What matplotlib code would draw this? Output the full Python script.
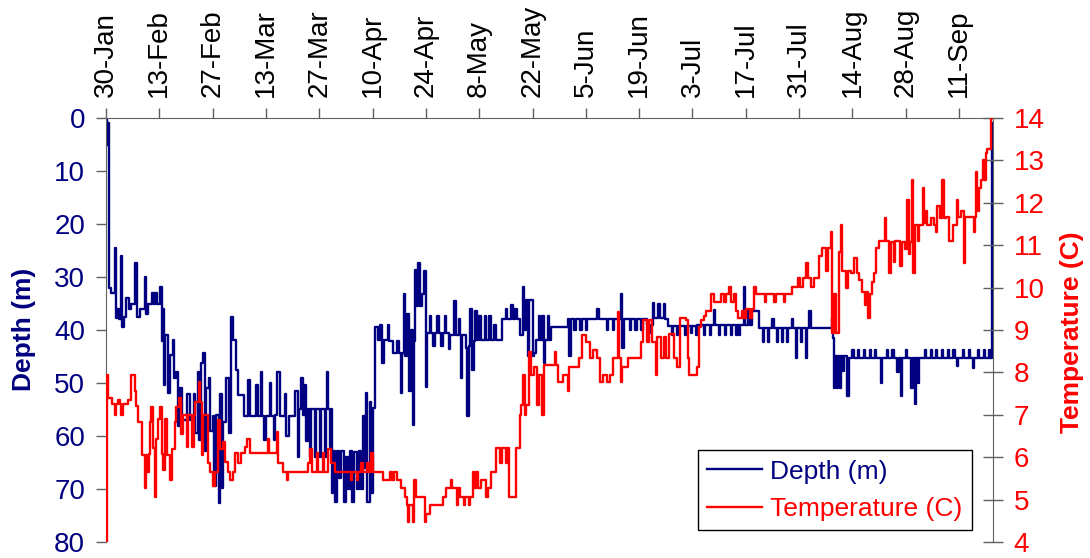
import matplotlib
matplotlib.use('Agg')
import matplotlib.pyplot as plt

plt.rcParams['font.family'] = ['Liberation Sans', 'DejaVu Sans']

# days since 30-Jan
date_ticks = [0, 14, 28, 42, 56, 70, 84, 98, 112, 126, 140, 154, 168, 182, 196, 210, 224]
date_labels = ['30-Jan', '13-Feb', '27-Feb', '13-Mar', '27-Mar', '10-Apr', '24-Apr', '8-May',
               '22-May', '5-Jun', '19-Jun', '3-Jul', '17-Jul', '31-Jul', '14-Aug', '28-Aug', '11-Sep']

depth_day = [0, 0.3, 0.5, 0.7, 1.3, 2.3, 2.6, 3.0, 3.3, 4.0, 4.3, 4.8, 5.2, 6.0, 6.6, 7.6, 8.1, 9.0,
             10.2, 10.5, 11.0, 12.0, 12.5, 13.0, 13.5, 14.2, 14.6, 15.0, 15.2, 15.6, 16.2, 16.8, 17.5,
             17.8, 18.3, 19.0, 19.4, 20.0, 21.2, 22.0, 23.0, 23.4, 24.1, 24.4, 25.0, 25.6, 26.0, 26.4,
             27.0, 27.3, 28.0, 28.5, 29.0, 29.6, 29.9, 30.5, 30.8, 31.6, 32.4, 32.8, 33.4, 34.2, 34.6,
             36.3, 37.3, 37.9, 39.4, 40.0, 40.6, 41.0, 41.5, 42.0, 43.0, 43.4, 44.0, 44.5, 45.0, 45.8,
             47.0, 47.4, 48.0, 49.6, 50.4, 50.8, 51.3, 51.8, 52.2, 52.6, 53.0, 53.5, 53.8, 54.8, 55.1,
             56.1, 56.4, 57.4, 57.7, 58.0, 58.3, 58.7, 59.0, 59.3, 59.6, 60.2, 60.6, 61.3, 61.8, 62.5,
             63.0, 63.6, 64.0, 64.7, 65.2, 66.0, 66.4, 67.0, 67.5, 67.9, 68.3, 68.6, 69.2, 69.6, 70.1,
             70.6, 71.3, 72.0, 72.4, 73.0, 74.0, 74.4, 75.3, 76.5, 77.0, 77.4, 77.7, 78.2, 78.6, 79.0,
             79.5, 80.0, 80.6, 80.9, 81.2, 81.6, 82.0, 82.4, 82.9, 83.6, 84.0, 84.3, 85.0, 85.4, 86.0,
             86.4, 87.0, 87.4, 88.0, 88.4, 89.0, 89.4, 90.0, 90.4, 91.5, 91.9, 92.6, 93.0, 93.2, 93.6,
             94.6, 94.8, 95.2, 95.6, 96.2, 96.6, 97.0, 97.4, 98.0, 98.4, 99.4, 99.8, 100.7, 101.1,
             102.0, 102.5, 104.1, 105.0, 105.4, 106.4, 106.8, 107.4, 107.8, 108.6, 109.4, 109.8, 110.4,
             110.8, 111.2, 112.0, 112.5, 113.0, 113.6, 114.0, 114.6, 115.0, 115.3, 116.0, 116.4, 116.9,
             121.2, 121.7, 122.0, 123.0, 123.4, 124.5, 124.9, 126.0, 126.4, 129.0, 129.5, 131.5, 131.9,
             133.0, 133.4, 135.3, 135.6, 136.0, 137.5, 137.9, 139.0, 139.4, 140.5, 140.9, 142.0, 142.4,
             142.8, 143.6, 144.0, 145.0, 145.4, 146.4, 146.8, 147.5, 148.5, 148.8, 150.0, 150.3, 152.0,
             152.3, 153.5, 154.0, 155.0, 155.3, 157.0, 157.3, 158.5, 158.8, 159.7, 160.0, 161.0, 161.3,
             162.5, 162.8, 164.0, 164.3, 165.5, 165.8, 166.3, 166.6, 167.6, 167.9, 168.5, 169.0, 169.5,
             170.2, 171.5, 172.5, 172.8, 173.8, 174.1, 175.0, 175.3, 176.2, 176.5, 177.5, 177.8, 178.8,
             179.1, 180.0, 180.3, 181.2, 181.5, 182.4, 182.7, 183.8, 184.1, 184.7, 185.0, 190.5, 190.8,
             191.2, 191.5, 192.0, 192.3, 192.6, 192.9, 193.5, 193.8, 194.6, 195.0, 196.0, 196.3, 197.5,
             197.8, 199.0, 199.3, 200.5, 200.8, 202.0, 202.3, 203.5, 203.8, 205.0, 205.3, 206.5, 206.8,
             207.8, 208.1, 208.7, 209.0, 210.0, 210.3, 211.5, 211.8, 212.5, 212.8, 213.3, 213.6, 215.0,
             215.3, 216.5, 216.8, 218.0, 218.3, 219.5, 219.8, 221.0, 221.3, 222.5, 222.8, 223.5, 223.8,
             225.0, 225.3, 226.5, 226.8, 227.7, 228.0, 229.0, 229.3, 230.5, 230.8, 231.8, 232.1, 232.6,
             232.8, 233.0]
depth_m = [0, 5, 1, 32, 33, 24.5, 37.7, 36, 38, 26, 39.4, 37.5, 34, 36, 35, 27.3, 37.5, 36,
           30, 37, 35, 33, 35, 33, 35, 31.8, 42, 36, 50.3, 41, 51.8, 44.7, 41.9,
           49, 48, 58.2, 50.9, 57, 52, 57, 52, 59.4, 47.9, 60.7, 46.2, 44.3, 62.9, 51,
           49, 59, 56.3, 69.5, 56, 72.6, 52, 69.8, 57.3, 49, 59.4, 37.5, 41.9, 47.5, 52.2,
           56.3, 49.4, 56.3, 50.3, 56.3, 48, 56.3, 60.7, 56.3, 50, 56.3, 60.7, 56, 48, 56.3,
           52, 60, 56.3, 51.6, 63.9, 55, 49, 56, 50.3, 61, 55, 63.9, 55, 63.9, 55,
           63.9, 55, 63.9, 55, 47.9, 55, 62, 55, 70.8, 62.9, 72.4, 62.9, 68, 62.9, 72.4,
           64, 70, 62.9, 72.4, 63, 70, 62.9, 70, 56.3, 66, 51.8, 72.4, 53.5, 70.8, 54.7,
           39.4, 41.9, 39, 46.2, 41.9, 39, 42, 44.3, 42, 44.3, 51.8, 44.3, 33.3, 45, 37,
           51.6, 40, 57.9, 42, 28.6, 35.5, 27.4, 35.5, 33.3, 28.9, 50.7, 40.6, 37.4, 40.6, 43.1,
           40.6, 37.4, 40.6, 43.1, 40.6, 37.4, 40.6, 43.6, 41, 34.6, 41, 38, 41, 49, 41,
           43.4, 56.3, 43, 36, 47.5, 42, 36.5, 41.9, 37.4, 41.9, 37.4, 41.9, 37.4, 41.9,
           39, 41.9, 38, 36, 38, 35.2, 38, 36, 38, 41, 31.8, 40, 34.3,
           45, 34.3, 45, 44.3, 41.9, 37.4, 41.9, 37.4, 46.3, 41.9, 37.4, 41.9, 39.4,
           38, 45, 38, 40, 38, 40, 38, 40, 38, 36, 38, 40, 38,
           40, 38, 33.3, 43.4, 38, 40, 38, 40, 38, 40, 38, 39, 40.6,
           39, 34.9, 37.7, 35, 37.7, 35, 38, 39.2, 41, 39.2, 41, 39.2, 41,
           39.2, 40.6, 39.2, 41, 39, 41, 39, 41, 39, 36.2, 39, 41, 39,
           41, 39, 41, 39, 41, 39, 41, 39, 31.8, 39, 36.2, 39, 36.2,
           36.5, 39.6, 42.2, 39.6, 42.2, 39.6, 38, 39.6, 42.2, 39.6, 42.2, 39.6, 42.2,
           39.6, 38, 39.6, 45.2, 39.6, 42.2, 39.6, 45.2, 39.6, 36.5, 39.6, 37.7, 41.6,
           51, 45, 51, 45, 51, 45, 47.7, 45, 52.5, 45.2, 43.7, 45.2, 43.7,
           45.2, 43.7, 45.2, 43.7, 45.2, 43.7, 45.2, 50, 45.2, 43.7, 45.2, 43.7, 45.2,
           48, 45.2, 52.5, 45.2, 43.7, 45.2, 50.9, 45.2, 54, 45.2, 50, 45.2, 43.7,
           45.2, 43.7, 45.2, 43.7, 45.2, 43.7, 45.2, 43.7, 45.2, 43.7, 45.2, 46.8, 45.2,
           43.7, 45.2, 43.7, 45.2, 47.1, 45.2, 43.7, 45.2, 43.7, 45.2, 43.7, 45.2, 1,
           2.5, 2.5]

temp_day = [0, 0.3, 0.6, 1.6, 2.3, 2.6, 3.2, 3.6, 4.0, 4.4, 5.85, 6.6, 7.6, 8.0, 8.4, 9.4, 10.2,
            10.5, 10.8, 11.2, 11.5, 11.9, 12.4, 12.85, 13.2, 13.6, 14.2, 14.7, 15.0, 15.5, 16.0,
            16.8, 17.4, 18.1, 18.5, 19.2, 19.8, 20.3, 21.2, 21.6, 22.5, 23.0, 23.4, 24.4, 24.8,
            25.2, 25.6, 26.8, 27.4, 28.1, 28.6, 29.4, 30.0, 30.7, 31.3, 32.0, 32.6, 33.3, 33.8,
            34.8, 35.4, 36.5, 37.0, 37.8, 42.6, 42.9, 44.9, 45.2, 46.4, 47.5, 47.8, 53.0, 53.6,
            54.0, 55.5, 55.8, 57.0, 57.3, 58.2, 59.0, 60.1, 64.4, 64.7, 65.8, 66.1, 67.0, 67.5,
            68.5, 69.0, 69.7, 70.0, 72.7, 74.5, 75.0, 75.5, 76.3, 77.4, 78.4, 79.0, 79.4, 79.7,
            80.5, 80.8, 81.0, 81.4, 83.7, 84.0, 85.0, 88.4, 89.4, 90.5, 90.9, 92.2, 92.5, 93.0,
            94.0, 94.3, 95.3, 95.6, 96.3, 96.7, 97.2, 97.7, 98.4, 99.8, 100.3, 101.1, 102.5,
            103.5, 103.9, 105.0, 105.4, 105.7, 107.7, 108.6, 109.0, 109.5, 109.9, 110.3, 111.2,
            111.7, 112.3, 113.3, 113.7, 114.6, 115.1, 117.8, 118.2, 118.6, 119.9, 121.3, 121.7,
            124.3, 125.1, 126.0, 127.0, 128.0, 129.0, 129.6, 130.4, 131.5, 132.3, 133.0, 134.4,
            134.8, 135.3, 135.6, 137.0, 140.5, 140.9, 142.0, 142.5, 143.5, 144.4, 144.8, 145.8,
            146.4, 147.0, 147.9, 149.2, 150.0, 150.6, 152.3, 152.8, 153.2, 155.3, 155.6, 156.2,
            157.0, 157.5, 158.8, 159.6, 160.5, 161.5, 162.2, 162.9, 163.5, 164.2, 164.8, 165.5,
            166.0, 167.0, 167.6, 168.1, 169.0, 169.6, 170.2, 170.7, 173.0, 173.3, 175.5, 175.8,
            178.0, 178.3, 180.2, 181.6, 182.2, 183.0, 183.8, 184.4, 185.1, 186.0, 187.3, 188.1,
            189.0, 189.5, 190.4, 190.6, 191.2, 191.8, 192.5, 192.9, 193.3, 194.4, 194.8, 195.5,
            196.5, 197.1, 197.8, 198.5, 199.2, 199.6, 200.2, 200.5, 201.2, 201.7, 202.3, 203.0,
            204.6, 204.9, 205.6, 206.0, 206.8, 207.2, 208.6, 209.0, 209.8, 210.4, 210.8, 211.2,
            211.7, 212.0, 212.3, 213.2, 213.6, 214.4, 214.8, 215.3, 215.7, 216.5, 217.3, 218.0,
            218.3, 219.0, 219.6, 220.0, 220.6, 221.4, 222.3, 223.5, 223.8, 224.6, 225.3, 225.6,
            227.9, 228.2, 228.5, 228.8, 229.2, 229.8, 230.4, 230.6, 231.0, 231.3, 232.4, 232.6]
temp_c = [4.0, 7.94, 7.39, 7.25, 7.0, 7.25, 7.35, 7.25, 7.0, 7.25, 7.35, 7.94, 7.55, 7.2, 6.84, 6.05, 5.27,
          6.05, 5.66, 6.07, 6.84, 7.19, 6.22, 5.07, 6.44, 6.9, 7.19, 6.07, 5.7, 6.9, 6.05,
          5.46, 6.2, 6.84, 7.19, 7.39, 6.55, 7.0, 6.25, 7.0, 6.25, 7.0, 7.3, 7.78, 7.3,
          6.05, 7.0, 5.86, 5.66, 5.31, 5.66, 6.88, 6.2, 6.36, 5.88, 5.66, 5.46, 5.66, 6.09,
          5.86, 6.09, 6.25, 6.44, 6.09, 6.44, 6.09, 6.6, 5.86, 5.66, 5.46, 5.66, 5.86, 6.2,
          5.66, 6.09, 5.66, 6.09, 5.66, 6.2, 5.86, 5.66, 5.46, 5.66, 5.46, 5.66, 5.86, 5.66,
          5.86, 5.66, 6.09, 5.66, 5.46, 5.66, 5.46, 5.66, 5.46, 5.27, 5.07, 4.87, 4.48, 4.87,
          4.48, 4.87, 5.46, 5.07, 4.48, 4.67, 4.87, 5.07, 5.27, 5.46, 5.27, 4.87, 5.27, 5.07,
          4.87, 5.07, 4.87, 5.07, 5.66, 5.27, 5.66, 5.27, 5.46, 5.07, 5.27, 5.66, 6.21,
          5.86, 6.21, 5.86, 6.21, 5.07, 6.21, 7.0, 7.23, 7.94, 7.0, 7.23, 8.49,
          7.94, 8.13, 7.23, 7.94, 7.0, 8.17, 8.49, 8.17, 7.78, 7.94, 7.55, 8.13,
          8.33, 8.88, 8.72, 8.33, 8.53, 8.33, 7.78, 7.94, 7.78, 7.94, 8.33, 9.43,
          8.33, 7.78, 8.13, 8.33, 8.72, 9.24, 8.72, 9.24, 8.72, 7.94, 8.84, 8.33,
          8.84, 8.33, 8.9, 8.33, 8.13, 9.28, 9.24, 8.33, 7.94, 8.13, 9.08, 9.24,
          9.33, 9.45, 9.84, 9.65, 9.65, 9.84, 9.65, 9.84, 10.02, 9.65, 9.84, 9.45,
          9.28, 9.45, 9.28, 9.5, 9.28, 9.5, 10.02, 9.84, 9.65, 9.84, 9.65, 9.84,
          9.65, 9.84, 10.02, 10.22, 10.02, 10.22, 10.57, 10.22, 10.02, 10.22, 10.75, 10.93,
          10.38, 10.93, 11.32, 8.92, 9.84, 8.92, 10.85, 11.48, 10.38, 10.0, 10.38, 10.35,
          10.7, 10.35, 10.18, 9.9, 9.6, 9.9, 9.28, 9.84, 10.14, 10.35, 10.93, 11.1,
          11.63, 11.1, 10.35, 11.07, 10.6, 11.1, 10.5, 11.07, 10.9, 12.07, 10.8, 11.07,
          12.54, 10.35, 11.48, 11.1, 11.48, 12.35, 11.52, 11.8, 11.48, 11.63, 11.48, 11.32,
          11.92, 11.63, 12.54, 11.63, 11.67, 11.1, 11.48, 12.07, 11.67, 11.8, 10.57, 11.67,
          11.32, 11.67, 12.73, 11.8, 12.35, 12.54, 13.0, 12.54, 13.17, 13.28, 14.0, 14.0]

navy = '#000080'
red = '#FF0000'
spine_col = '#606060'

fig = plt.figure(figsize=(10.9, 5.58), dpi=100)
ax = fig.add_axes([0.0972, 0.0287, 0.8138, 0.7598])
ax2 = ax.twinx()

l1, = ax.plot(depth_day, depth_m, color=navy, lw=1.7, drawstyle='steps-post', label='Depth (m)')
l2, = ax2.plot(temp_day, temp_c, color=red, lw=1.7, drawstyle='steps-post', label='Temperature (C)')

ax.set_xlim(0, 232.9)
ax.set_ylim(80, 0)
ax2.set_ylim(4, 14)

ax.set_xticks(date_ticks)
ax.set_xticklabels(date_labels)
ax.xaxis.set_ticks_position('top')
ax.tick_params(axis='x', top=True, bottom=False, labeltop=True, labelbottom=False,
               rotation=90, length=7, width=1, pad=8, direction='out',
               labelsize=20, color=spine_col, labelcolor='black')
ax.set_yticks(range(0, 81, 10))
ax.tick_params(axis='y', length=7, width=1, pad=8, direction='out',
               labelsize=20, color=spine_col, labelcolor=navy)
ax2.set_yticks(range(4, 15))
ax2.tick_params(axis='y', length=14, width=1, pad=8, direction='inout',
                labelsize=20, color=spine_col, labelcolor=red)

for s in ['bottom', 'right']:
    ax.spines[s].set_visible(False)
for s in ['bottom', 'left', 'top']:
    ax2.spines[s].set_visible(False)
ax.spines['left'].set_color(spine_col)
ax.spines['top'].set_color(spine_col)
ax2.spines['right'].set_color(spine_col)

fig.text(0.022, 0.409, 'Depth (m)', rotation=90, ha='center', va='center',
         fontsize=19, fontweight='bold', color=navy)
fig.text(0.9835, 0.405, 'Temperature (C)', rotation=90, ha='center', va='center',
         fontsize=19, fontweight='bold', color=red)

leg = ax2.legend(handles=[l1, l2], loc='lower left', bbox_to_anchor=(0.640, 0.050),
                 bbox_transform=fig.transFigure, borderaxespad=0, fontsize=19,
                 frameon=True, fancybox=False, framealpha=1, edgecolor='black',
                 handlelength=2.1, handletextpad=0.3, borderpad=0.35, labelspacing=0.5)
leg.get_frame().set_linewidth(1)
for txt, c in zip(leg.get_texts(), [navy, red]):
    txt.set_color(c)

fig.savefig('out.png', dpi=100)
